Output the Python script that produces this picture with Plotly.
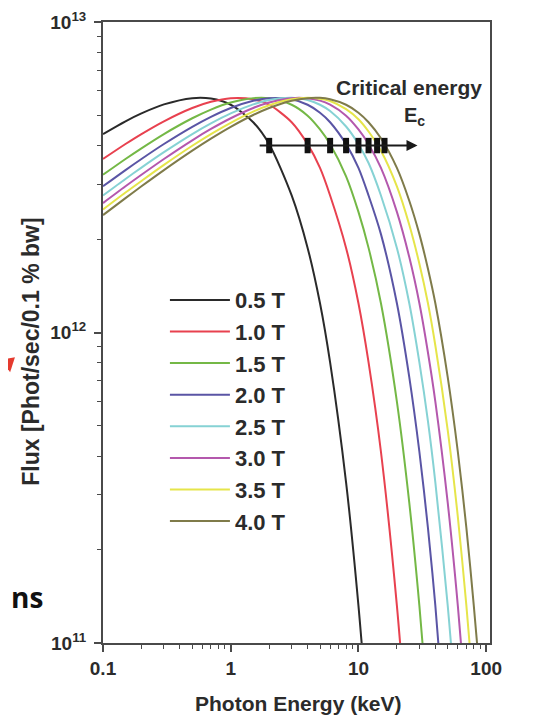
import math
import plotly.graph_objects as go

# ---------------- data ----------------
energy_keV = [0.1, 0.15, 0.2, 0.3, 0.5, 0.7, 1, 1.5, 2, 3, 4, 5, 6, 8, 10, 12,
              15, 20, 25, 30, 35, 40, 50, 60, 70, 80, 90, 100]

field_labels = ["0.5 T", "1.0 T", "1.5 T", "2.0 T", "2.5 T", "3.0 T", "3.5 T", "4.0 T"]

# flux in units of 1e12 Phot/sec/0.1% bw
flux_05T = [4.356, 4.789, 5.079, 5.429, 5.686, 5.668, 5.414, 4.756, 4.042, 2.763,
            1.873, 1.242, 0.801, 0.329, 0.132, 0.0526,
            None, None, None, None, None, None, None, None, None, None, None, None]
flux_10T = [3.621, 4.046, 4.356, 4.789, 5.285, 5.534, 5.686, 5.638, 5.414, 4.756,
            4.042, 3.390, 2.763, 1.873, 1.242, 0.801, 0.413, 0.132, 0.0417,
            None, None, None, None, None, None, None, None, None]
flux_15T = [3.221, 3.621, 3.919, 4.356, 4.898, 5.224, 5.504, 5.686, 5.682, 5.414,
            4.992, 4.508, 4.042, 3.185, 2.446, 1.873, 1.242, 0.599, 0.283, 0.132,
            0.0614, None, None, None, None, None, None, None]
flux_20T = [2.957, 3.335, 3.621, 4.046, 4.596, 4.949, 5.285, 5.575, 5.686, 5.638,
            5.414, 5.104, 4.756, 4.042, 3.390, 2.763, 2.074, 1.242, 0.718, 0.413,
            0.235, 0.132, 0.0417, None, None, None, None, None]
flux_25T = [2.763, 3.123, 3.397, 3.809, 4.356, 4.716, 5.079, 5.429, 5.607, 5.700,
            5.607, 5.414, 5.166, 4.607, 4.042, 3.514, 2.763, 1.873, 1.242, 0.801,
            0.518, 0.329, 0.132, 0.0526, None, None, None, None]
flux_30T = [2.611, 2.957, 3.221, 3.621, 4.159, 4.523, 4.898, 5.285, 5.504, 5.686,
            5.682, 5.582, 5.414, 4.992, 4.508, 4.042, 3.390, 2.446, 1.749, 1.242,
            0.862, 0.599, 0.283, 0.132, 0.0614, None, None, None]
flux_35T = [2.489, 2.823, 3.077, 3.466, 3.994, 4.356, 4.737, 5.145, 5.394, 5.637,
            5.699, 5.663, 5.569, 5.240, 4.862, 4.439, 3.850, 2.955, 2.223, 1.665,
            1.242, 0.908, 0.485, 0.255, 0.132, 0.0686, None, None]
flux_40T = [2.388, 2.709, 2.957, 3.335, 3.852, 4.211, 4.596, 5.017, 5.285, 5.575,
            5.686, 5.697, 5.638, 5.414, 5.104, 4.756, 4.222, 3.390, 2.657, 2.074,
            1.605, 1.242, 0.718, 0.413, 0.235, 0.132, 0.0745, 0.0417]

critical_energy_keV = [2, 4, 6, 8, 10, 12, 14, 16]
critical_marker_flux = [4.0, 4.0, 4.0, 4.0, 4.0, 4.0, 4.0, 4.0]
arrow_energy_keV = [1.64, 29.0]
arrow_flux = [4.0, 4.0]

x_tick_values = [0.1, 1, 10, 100]
x_tick_labels = ["0.1", "1", "10", "100"]
y_tick_values = [1e11, 1e12, 1e13]
y_tick_labels = ["10<sup>11</sup>", "10<sup>12</sup>", "10<sup>13</sup>"]

FLUX_UNIT = 1e12

# ---------------- styles ----------------
colors = ["#2a2a2a", "#e8414f", "#74b846", "#5a55a5", "#86d2d4", "#b458ad", "#e6e54a", "#7f7b4a"]
FONT = "Liberation Sans, Arial, sans-serif"
TXT = "#2b2b2b"

series = [flux_05T, flux_10T, flux_15T, flux_20T, flux_25T, flux_30T, flux_35T, flux_40T]

fig = go.Figure()
for name, vals, col in zip(field_labels, series, colors):
    fig.add_trace(go.Scatter(
        x=energy_keV,
        y=[v * FLUX_UNIT if v is not None else None for v in vals],
        mode="lines", name="<b>" + name + "</b>", legendgroup=name,
        line=dict(color=col, width=2, shape="spline", smoothing=0.8),
    ))

fig.add_trace(go.Scatter(
    x=critical_energy_keV,
    y=[v * FLUX_UNIT for v in critical_marker_flux],
    mode="markers", showlegend=False,
    marker=dict(symbol="line-ns", size=11, color="#111", line=dict(width=6, color="#111")),
))

# arrow along the critical energies
fig.add_annotation(
    x=math.log10(arrow_energy_keV[1]), y=math.log10(arrow_flux[1] * FLUX_UNIT),
    ax=math.log10(arrow_energy_keV[0]), ay=math.log10(arrow_flux[0] * FLUX_UNIT),
    xref="x", yref="y", axref="x", ayref="y",
    text="", showarrow=True, arrowhead=2, arrowsize=1.1, arrowwidth=2, arrowcolor="#1a1a1a",
)

fig.add_annotation(text="<b>Critical energy</b>", xref="paper", yref="paper",
                   x=0.985, y=0.894, xanchor="right", yanchor="middle", showarrow=False,
                   font=dict(family=FONT, size=21, color=TXT))
fig.add_annotation(text="<b>E<sub>c</sub></b>", xref="paper", yref="paper",
                   x=0.805, y=0.848, xanchor="center", yanchor="middle", showarrow=False,
                   font=dict(family=FONT, size=20, color=TXT))

# axis titles
fig.add_annotation(text="<b>Photon Energy (keV)</b>", xref="paper", yref="paper",
                   x=0.504, y=-0.098, xanchor="center", yanchor="middle", showarrow=False,
                   font=dict(family=FONT, size=21, color=TXT))
fig.add_annotation(text="<b>Flux [Phot/sec/0.1 % bw]</b>", xref="paper", yref="paper",
                   x=-0.186, y=0.469, xanchor="center", yanchor="middle", showarrow=False,
                   textangle=-90, font=dict(family=FONT, size=23, color=TXT))

# stray fragments of the surrounding slide
fig.add_annotation(text="<b>ns</b>", xref="paper", yref="paper",
                   x=-0.150, y=0.074, xanchor="right", yanchor="middle", showarrow=False,
                   font=dict(family="Open Sans, sans-serif", size=28, color="#111"))
fig.add_annotation(x=-0.240, y=0.436, xref="paper", yref="paper", text="",
                   showarrow=True, ax=-30, ay=-14, arrowhead=2, arrowsize=1.4,
                   arrowwidth=2, arrowcolor="#e53a2e")

axis_common = dict(
    type="log", showline=True, linewidth=2, linecolor="#4a4a4a", mirror=True,
    showgrid=False, zeroline=False, ticks="outside", ticklen=7, tickwidth=1.5,
    tickcolor="#4a4a4a", automargin=False,
    tickfont=dict(family=FONT, size=19, color=TXT, weight="bold"),
)

fig.update_xaxes(
    **axis_common,
    range=[-1, 2.03],
    tickvals=x_tick_values, ticktext=x_tick_labels,
    minor=dict(ticks="outside", ticklen=4, tickwidth=1.2, tickcolor="#4a4a4a",
               tickvals=[0.2, 0.3, 0.4, 0.5, 0.6, 0.7, 0.8, 0.9,
                         2, 3, 4, 5, 6, 7, 8, 9, 20, 30, 40, 50, 60, 70, 80, 90]),
)
fig.update_yaxes(
    **axis_common,
    range=[11, 13],
    tickvals=y_tick_values, ticktext=y_tick_labels,
    ticklabelstandoff=4,
    minor=dict(ticks="outside", ticklen=4, tickwidth=1.2, tickcolor="#4a4a4a",
               tickvals=[2e11, 3e11, 4e11, 5e11, 6e11, 7e11, 8e11, 9e11,
                         2e12, 3e12, 4e12, 5e12, 6e12, 7e12, 8e12, 9e12]),
)

# the page adds an 8px body margin, so the figure is 8px smaller and shifted
fig.update_layout(
    width=548, height=713,
    margin=dict(l=95, r=66, t=14, b=78, autoexpand=False),
    paper_bgcolor="white", plot_bgcolor="white",
    showlegend=True,
    legend=dict(x=0.16, y=0.586, xanchor="left", yanchor="top", itemwidth=60,
                bgcolor="rgba(0,0,0,0)", borderwidth=0, tracegroupgap=0,
                font=dict(family=FONT, size=22, color=TXT)),
)

fig.write_html("out.html")
